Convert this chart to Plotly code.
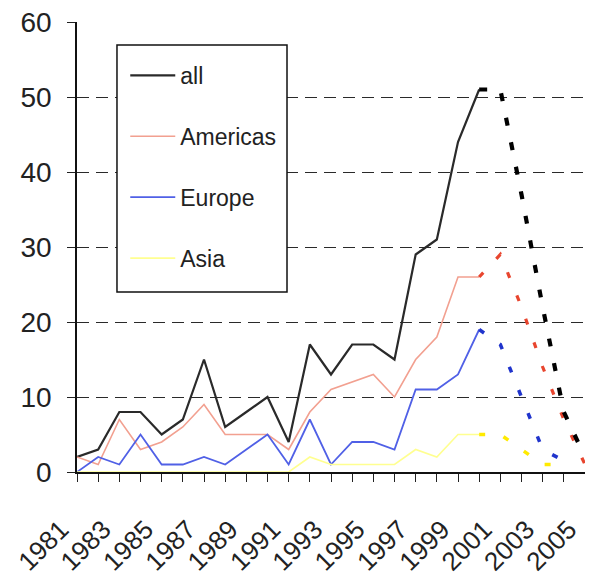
import plotly.graph_objects as go

# ---- data ----
years_hist = list(range(1981, 2001))
all_hist = [2, 3, 8, 8, 5, 7, 15, 6, 8, 10, 4, 17, 13, 17, 17, 15, 29, 31, 44, 51]
americas_hist = [2, 1, 7, 3, 4, 6, 9, 5, 5, 5, 3, 8, 11, 12, 13, 10, 15, 18, 26, 26]
europe_hist = [0, 2, 1, 5, 1, 1, 2, 1, 3, 5, 1, 7, 1, 4, 4, 3, 11, 11, 13, 19]
asia_hist = [0, 0, 0, 0, 0, 0, 0, 0, 0, 0, 0, 2, 1, 1, 1, 1, 3, 2, 5, 5]

years_proj_long = [2000, 2001, 2002, 2003, 2004, 2005]
years_proj_short = [2000, 2001, 2002, 2003, 2004]
all_proj = [51, 51, 37, 22, 8, 2]
americas_proj = [26, 29, 22, 14, 7, 1]
europe_proj = [19, 17, 10, 3, 1.5]
asia_proj = [5, 5, 3, 1, 1]

x_tick_vals = list(range(1981, 2006, 2))
x_tick_text = [str(v) for v in x_tick_vals]
y_tick_vals = [0, 10, 20, 30, 40, 50, 60]
y_tick_text = [str(v) for v in y_tick_vals]

FONT = "Arial, Liberation Sans, sans-serif"

fig = go.Figure()

# solid history lines (legend entries)
hist = [
    ("all", all_hist, "#2a2a2a", 2.2),
    ("Americas", americas_hist, "#f2a090", 1.6),
    ("Europe", europe_hist, "#5060e6", 1.8),
    ("Asia", asia_hist, "#ffff90", 1.6),
]
for name, vals, col, w in hist:
    fig.add_trace(go.Scatter(
        x=years_hist, y=vals, mode="lines", name=name, legendgroup=name,
        line=dict(color=col, width=w), hoverinfo="skip"))

# dotted projections
proj = [
    (years_proj_long, americas_proj, "#e8452e", 3.2, "6px,19px"),
    (years_proj_short, europe_proj, "#2034cc", 3.5, "6px,19px"),
    (years_proj_short, asia_proj, "#ffea00", 3.5, "6px,19px"),
    (years_proj_long, all_proj, "#000000", 4.2, "8px,17px"),
]
for xs, vals, col, w, dash in proj:
    fig.add_trace(go.Scatter(
        x=xs, y=vals, mode="lines", showlegend=False,
        line=dict(color=col, width=w, dash=dash), hoverinfo="skip"))

# page body has an 8px default margin, so the figure is 8px smaller
fig.update_layout(
    width=585, height=573,
    margin=dict(l=69, r=8, t=14, b=109),
    paper_bgcolor="white", plot_bgcolor="white",
    font=dict(family=FONT, color="#222222"),
    showlegend=True,
    legend=dict(
        x=0.095, y=0.929, xanchor="left", yanchor="top",
        bgcolor="rgba(0,0,0,0)", borderwidth=0,
        font=dict(size=23, family=FONT, color="#222222"),
        tracegroupgap=28, itemwidth=45,
    ),
    shapes=[dict(
        type="rect", xref="paper", yref="paper",
        x0=0.0787, x1=0.4134, y0=0.40, y1=0.949,
        line=dict(color="#111111", width=1.5), fillcolor="white",
        layer="above",
    )],
)

fig.update_xaxes(
    range=[1981, 2005], automargin=False, ticklabeloverflow="allow",
    tickmode="array", tickvals=x_tick_vals, ticktext=x_tick_text,
    tickangle=-45, tickfont=dict(size=26, family=FONT, color="#222222"),
    ticks="outside", ticklen=8, tickwidth=1.3, tickcolor="#222222",
    minor=dict(dtick=1, tick0=1981, ticks="outside", ticklen=8,
               tickwidth=1.3, tickcolor="#222222", showgrid=False),
    showline=True, linecolor="#111111", linewidth=2,
    showgrid=False, zeroline=False,
    ticklabelshift=-16, ticklabelstandoff=22,
)
fig.update_yaxes(
    range=[0, 60], automargin=False, ticklabeloverflow="allow",
    tickmode="array", tickvals=y_tick_vals, ticktext=y_tick_text,
    tickfont=dict(size=28, family=FONT, color="#222222"),
    ticks="outside", ticklen=8, tickwidth=1.3, tickcolor="#222222",
    showline=True, linecolor="#111111", linewidth=1.5,
    showgrid=True, gridcolor="#2a2a2a", gridwidth=1.4, griddash="12px,7px",
    zeroline=False, ticklabelstandoff=10,
)

fig.write_html("out.html")
